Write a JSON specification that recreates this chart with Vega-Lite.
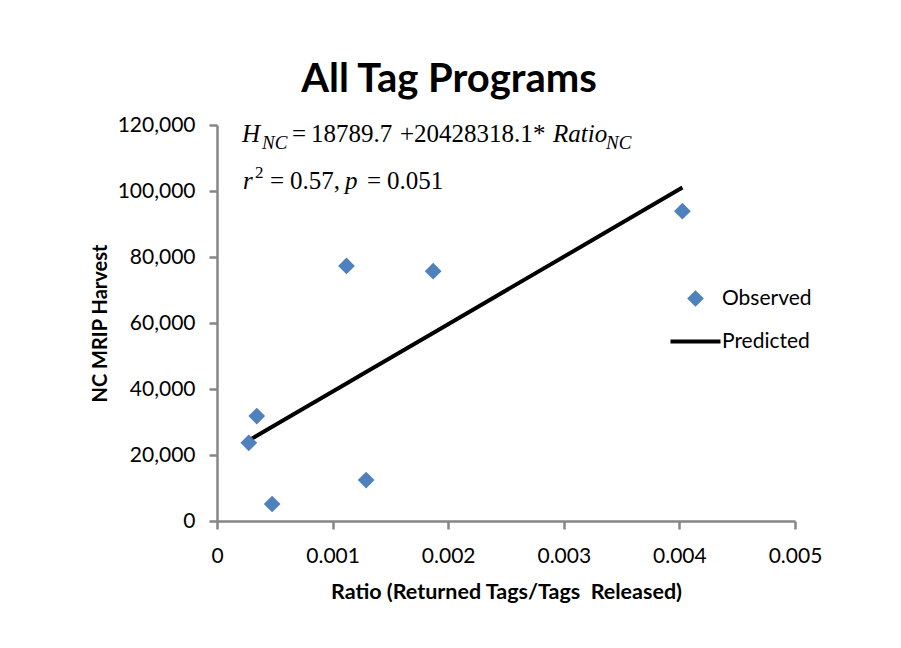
{
  "$schema": "https://vega.github.io/schema/vega-lite/v6.json",
  "width": 578,
  "height": 396,
  "autosize": {"type": "none"},
  "padding": {"left": 217, "top": 125, "right": 106, "bottom": 127},
  "background": "white",
  "config": {
    "font": "Lato",
    "view": {"stroke": null},
    "axis": {
      "grid": false,
      "domainColor": "#868686",
      "domainWidth": 2.5,
      "tickColor": "#868686",
      "tickWidth": 2.5,
      "tickSize": 8,
      "labelFont": "Lato",
      "labelFontSize": 21,
      "labelColor": "black",
      "labelFlush": false,
      "labelOverlap": false,
      "titleFont": "Lato",
      "titleFontWeight": "bold",
      "titleColor": "black"
    }
  },
  "title": {
    "text": "All Tag Programs",
    "font": "Lato",
    "fontSize": 40,
    "fontWeight": "bold",
    "color": "black",
    "anchor": "middle",
    "frame": "group",
    "baseline": "alphabetic",
    "dx": -57,
    "dy": 40,
    "offset": 22
  },
  "datasets": {
    "harvest": [
      {"ratio": 0.000275, "harvest": 23700, "predicted": 24407},
      {"ratio": 0.000344, "harvest": 31800, "predicted": 25817},
      {"ratio": 0.000477, "harvest": 5150, "predicted": 28534},
      {"ratio": 0.00112, "harvest": 77300, "predicted": 41669},
      {"ratio": 0.00129, "harvest": 12400, "predicted": 45142},
      {"ratio": 0.00187, "harvest": 75700, "predicted": 56991},
      {"ratio": 0.004026, "harvest": 93900, "predicted": 101034}
    ],
    "notes": [
      {"line": "equation"}
    ]
  },
  "resolve": {"axis": {"x": "independent", "y": "independent"}},
  "layer": [
    {
      "data": {"name": "harvest"},
      "mark": {"type": "line", "strokeWidth": 4},
      "encoding": {
        "x": {
          "field": "ratio",
          "type": "quantitative",
          "scale": {"domain": [0, 0.005], "nice": false},
          "axis": {
            "values": [0, 0.001, 0.002, 0.003, 0.004, 0.005],
            "format": ".3~f",
            "labelPadding": 16,
            "title": "Ratio (Returned Tags/Tags\u00a0 Released)",
            "titleFontSize": 21.5,
            "titlePadding": 15
          }
        },
        "y": {
          "field": "predicted",
          "type": "quantitative",
          "scale": {"domain": [0, 120000], "nice": false},
          "axis": {
            "values": [0, 20000, 40000, 60000, 80000, 100000, 120000],
            "format": ",.0f",
            "labelPadding": 14,
            "title": "NC MRIP Harvest",
            "titleFontSize": 20,
            "titlePadding": 7
          }
        },
        "color": {
          "datum": "Predicted",
          "type": "nominal",
          "scale": {"domain": ["Observed", "Predicted"], "range": ["#4F81BD", "black"]},
          "legend": {
            "orient": "none",
            "legendX": 468,
            "legendY": 163,
            "title": null,
            "padding": 0,
            "symbolSize": 484,
            "rowPadding": 21,
            "labelFont": "Lato",
            "labelFontSize": 21,
            "labelColor": "black",
            "labelOffset": 16,
            "encode": {
              "symbols": {
                "update": {
                  "shape": {"signal": "datum.value === 'Observed' ? 'diamond' : 'stroke'"},
                  "size": {"signal": "datum.value === 'Observed' ? 280 : 2500"},
                  "strokeWidth": {"signal": "datum.value === 'Observed' ? 0 : 4"},
                  "fill": {"signal": "datum.value === 'Observed' ? '#4F81BD' : 'transparent'"},
                  "stroke": {"signal": "datum.value === 'Observed' ? '#4F81BD' : 'black'"},
                  "opacity": {"value": 1},
                  "fillOpacity": {"value": 1},
                  "strokeOpacity": {"value": 1}
                }
              }
            }
          }
        }
      }
    },
    {
      "data": {"name": "harvest"},
      "mark": {"type": "point", "shape": "diamond", "filled": true, "size": 280, "opacity": 1},
      "encoding": {
        "x": {"field": "ratio", "type": "quantitative", "axis": null},
        "y": {"field": "harvest", "type": "quantitative", "axis": null},
        "color": {"datum": "Observed", "type": "nominal"}
      }
    },
    {
      "data": {"name": "notes"},
      "encoding": {
        "x": {"datum": 0, "type": "quantitative", "axis": null},
        "y": {"datum": 114800, "type": "quantitative", "axis": null}
      },
      "layer": [
        {"mark": {"type": "text", "font": "Liberation Serif", "fontSize": 25, "fontStyle": "italic", "align": "left", "baseline": "alphabetic", "color": "black", "dx": 25}, "encoding": {"text": {"value": "H"}}},
        {"mark": {"type": "text", "font": "Liberation Serif", "fontSize": 19, "fontStyle": "italic", "align": "left", "baseline": "alphabetic", "color": "black", "dx": 45, "dy": 7}, "encoding": {"text": {"value": "NC"}}},
        {"mark": {"type": "text", "font": "Liberation Serif", "fontSize": 25, "align": "left", "baseline": "alphabetic", "color": "black", "dx": 75}, "encoding": {"text": {"value": "="}}},
        {"mark": {"type": "text", "font": "Liberation Serif", "fontSize": 25, "align": "left", "baseline": "alphabetic", "color": "black", "dx": 94}, "encoding": {"text": {"value": "18789.7"}}},
        {"mark": {"type": "text", "font": "Liberation Serif", "fontSize": 25, "align": "left", "baseline": "alphabetic", "color": "black", "dx": 183}, "encoding": {"text": {"value": "+"}}},
        {"mark": {"type": "text", "font": "Liberation Serif", "fontSize": 25, "align": "left", "baseline": "alphabetic", "color": "black", "dx": 197}, "encoding": {"text": {"value": "20428318.1"}}},
        {"mark": {"type": "text", "font": "Liberation Serif", "fontSize": 25, "align": "left", "baseline": "alphabetic", "color": "black", "dx": 316}, "encoding": {"text": {"value": "*"}}},
        {"mark": {"type": "text", "font": "Liberation Serif", "fontSize": 25, "fontStyle": "italic", "align": "left", "baseline": "alphabetic", "color": "black", "dx": 336}, "encoding": {"text": {"value": "Ratio"}}},
        {"mark": {"type": "text", "font": "Liberation Serif", "fontSize": 19, "fontStyle": "italic", "align": "left", "baseline": "alphabetic", "color": "black", "dx": 389, "dy": 7}, "encoding": {"text": {"value": "NC"}}}
      ]
    },
    {
      "data": {"name": "notes"},
      "encoding": {
        "x": {"datum": 0, "type": "quantitative", "axis": null},
        "y": {"datum": 100600, "type": "quantitative", "axis": null}
      },
      "layer": [
        {"mark": {"type": "text", "font": "Liberation Serif", "fontSize": 25, "fontStyle": "italic", "align": "left", "baseline": "alphabetic", "color": "black", "dx": 26}, "encoding": {"text": {"value": "r"}}},
        {"mark": {"type": "text", "font": "Liberation Serif", "fontSize": 17, "align": "left", "baseline": "alphabetic", "color": "black", "dx": 38, "dy": -11}, "encoding": {"text": {"value": "2"}}},
        {"mark": {"type": "text", "font": "Liberation Serif", "fontSize": 25, "align": "left", "baseline": "alphabetic", "color": "black", "dx": 53}, "encoding": {"text": {"value": "="}}},
        {"mark": {"type": "text", "font": "Liberation Serif", "fontSize": 25, "align": "left", "baseline": "alphabetic", "color": "black", "dx": 73}, "encoding": {"text": {"value": "0.57,"}}},
        {"mark": {"type": "text", "font": "Liberation Serif", "fontSize": 25, "fontStyle": "italic", "align": "left", "baseline": "alphabetic", "color": "black", "dx": 128}, "encoding": {"text": {"value": "p"}}},
        {"mark": {"type": "text", "font": "Liberation Serif", "fontSize": 25, "align": "left", "baseline": "alphabetic", "color": "black", "dx": 150}, "encoding": {"text": {"value": "="}}},
        {"mark": {"type": "text", "font": "Liberation Serif", "fontSize": 25, "align": "left", "baseline": "alphabetic", "color": "black", "dx": 170}, "encoding": {"text": {"value": "0.051"}}}
      ]
    }
  ]
}
